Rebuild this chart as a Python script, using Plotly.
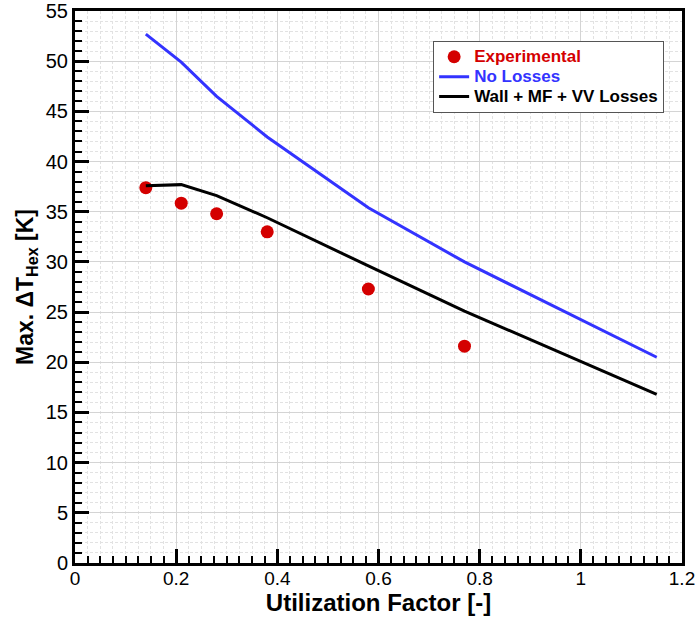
import plotly.graph_objects as go

# Measured peak heat-exchanger temperature difference
exp_u = [0.14, 0.21, 0.28, 0.38, 0.58, 0.77]
exp_dt = [37.4, 35.85, 34.8, 33.0, 27.3, 21.6]

# Model without losses
model_u = [0.14, 0.21, 0.28, 0.38, 0.58, 0.77, 1.15]
no_loss_dt = [52.7, 49.9, 46.5, 42.45, 35.4, 30.0, 20.5]

# Model with wall, MF and VV losses
loss_dt = [37.6, 37.7, 36.6, 34.4, 29.6, 25.1, 16.8]

x_ticks = [0, 0.2, 0.4, 0.6, 0.8, 1, 1.2]
x_labels = ["0", "0.2", "0.4", "0.6", "0.8", "1", "1.2"]

RED = "#d40000"
BLUE = "#3333ff"
FONT = "Liberation Sans, Arial"


def legend_label(text, color):
    return f"<b><span style='color:{color};font-size:17px'>{text}</span></b>"


fig = go.Figure()
fig.add_trace(go.Scatter(
    x=exp_u, y=exp_dt, mode="markers",
    marker=dict(color=RED, size=13),
    name=legend_label("Experimental", RED),
))
fig.add_trace(go.Scatter(
    x=model_u, y=no_loss_dt, mode="lines",
    line=dict(color=BLUE, width=3),
    name=legend_label("No Losses", BLUE),
))
fig.add_trace(go.Scatter(
    x=model_u, y=loss_dt, mode="lines",
    line=dict(color="black", width=3),
    name=legend_label("Wall + MF + VV Losses", "black"),
))

axis_common = dict(
    showline=True, linecolor="black", linewidth=3, mirror=True,
    ticks="inside", tickcolor="black", tickwidth=3, ticklen=14,
    showgrid=True, gridcolor="#d4d4d4", gridwidth=1,
    zeroline=False, automargin=False,
)
minor_common = dict(
    ticks="inside", ticklen=7, tickwidth=2, tickcolor="black",
    showgrid=True, gridcolor="#e2e2e2", griddash="3px,2px", gridwidth=1,
)

fig.update_xaxes(
    **axis_common,
    range=[0, 1.2], tickvals=x_ticks, ticktext=x_labels,
    tickfont=dict(family=FONT, size=19, color="black"),
    ticklabelstandoff=-4,
    minor=dict(dtick=0.025, **minor_common),
    title=dict(text="<b>Utilization Factor [-]</b>", standoff=4,
               font=dict(family=FONT, size=24, color="black")),
)
fig.update_yaxes(
    **axis_common,
    range=[0, 55], dtick=5,
    tickfont=dict(family=FONT, size=20, color="black"),
    minor=dict(dtick=1, **minor_common),
    title=dict(text="<b>Max. ΔT<sub>Hex</sub> [K]</b>", standoff=6,
               font=dict(family=FONT, size=23, color="black")),
)

fig.update_layout(
    width=699, height=617,
    margin=dict(l=75, r=17, t=11, b=54),
    plot_bgcolor="white", paper_bgcolor="white",
    showlegend=True,
    legend=dict(
        x=0.59, y=0.946, xanchor="left", yanchor="top",
        bgcolor="white", bordercolor="#555555", borderwidth=1,
        font=dict(family=FONT, size=13, color="black"),
        tracegroupgap=0, itemwidth=30,
    ),
)

fig.write_html("out.html")
